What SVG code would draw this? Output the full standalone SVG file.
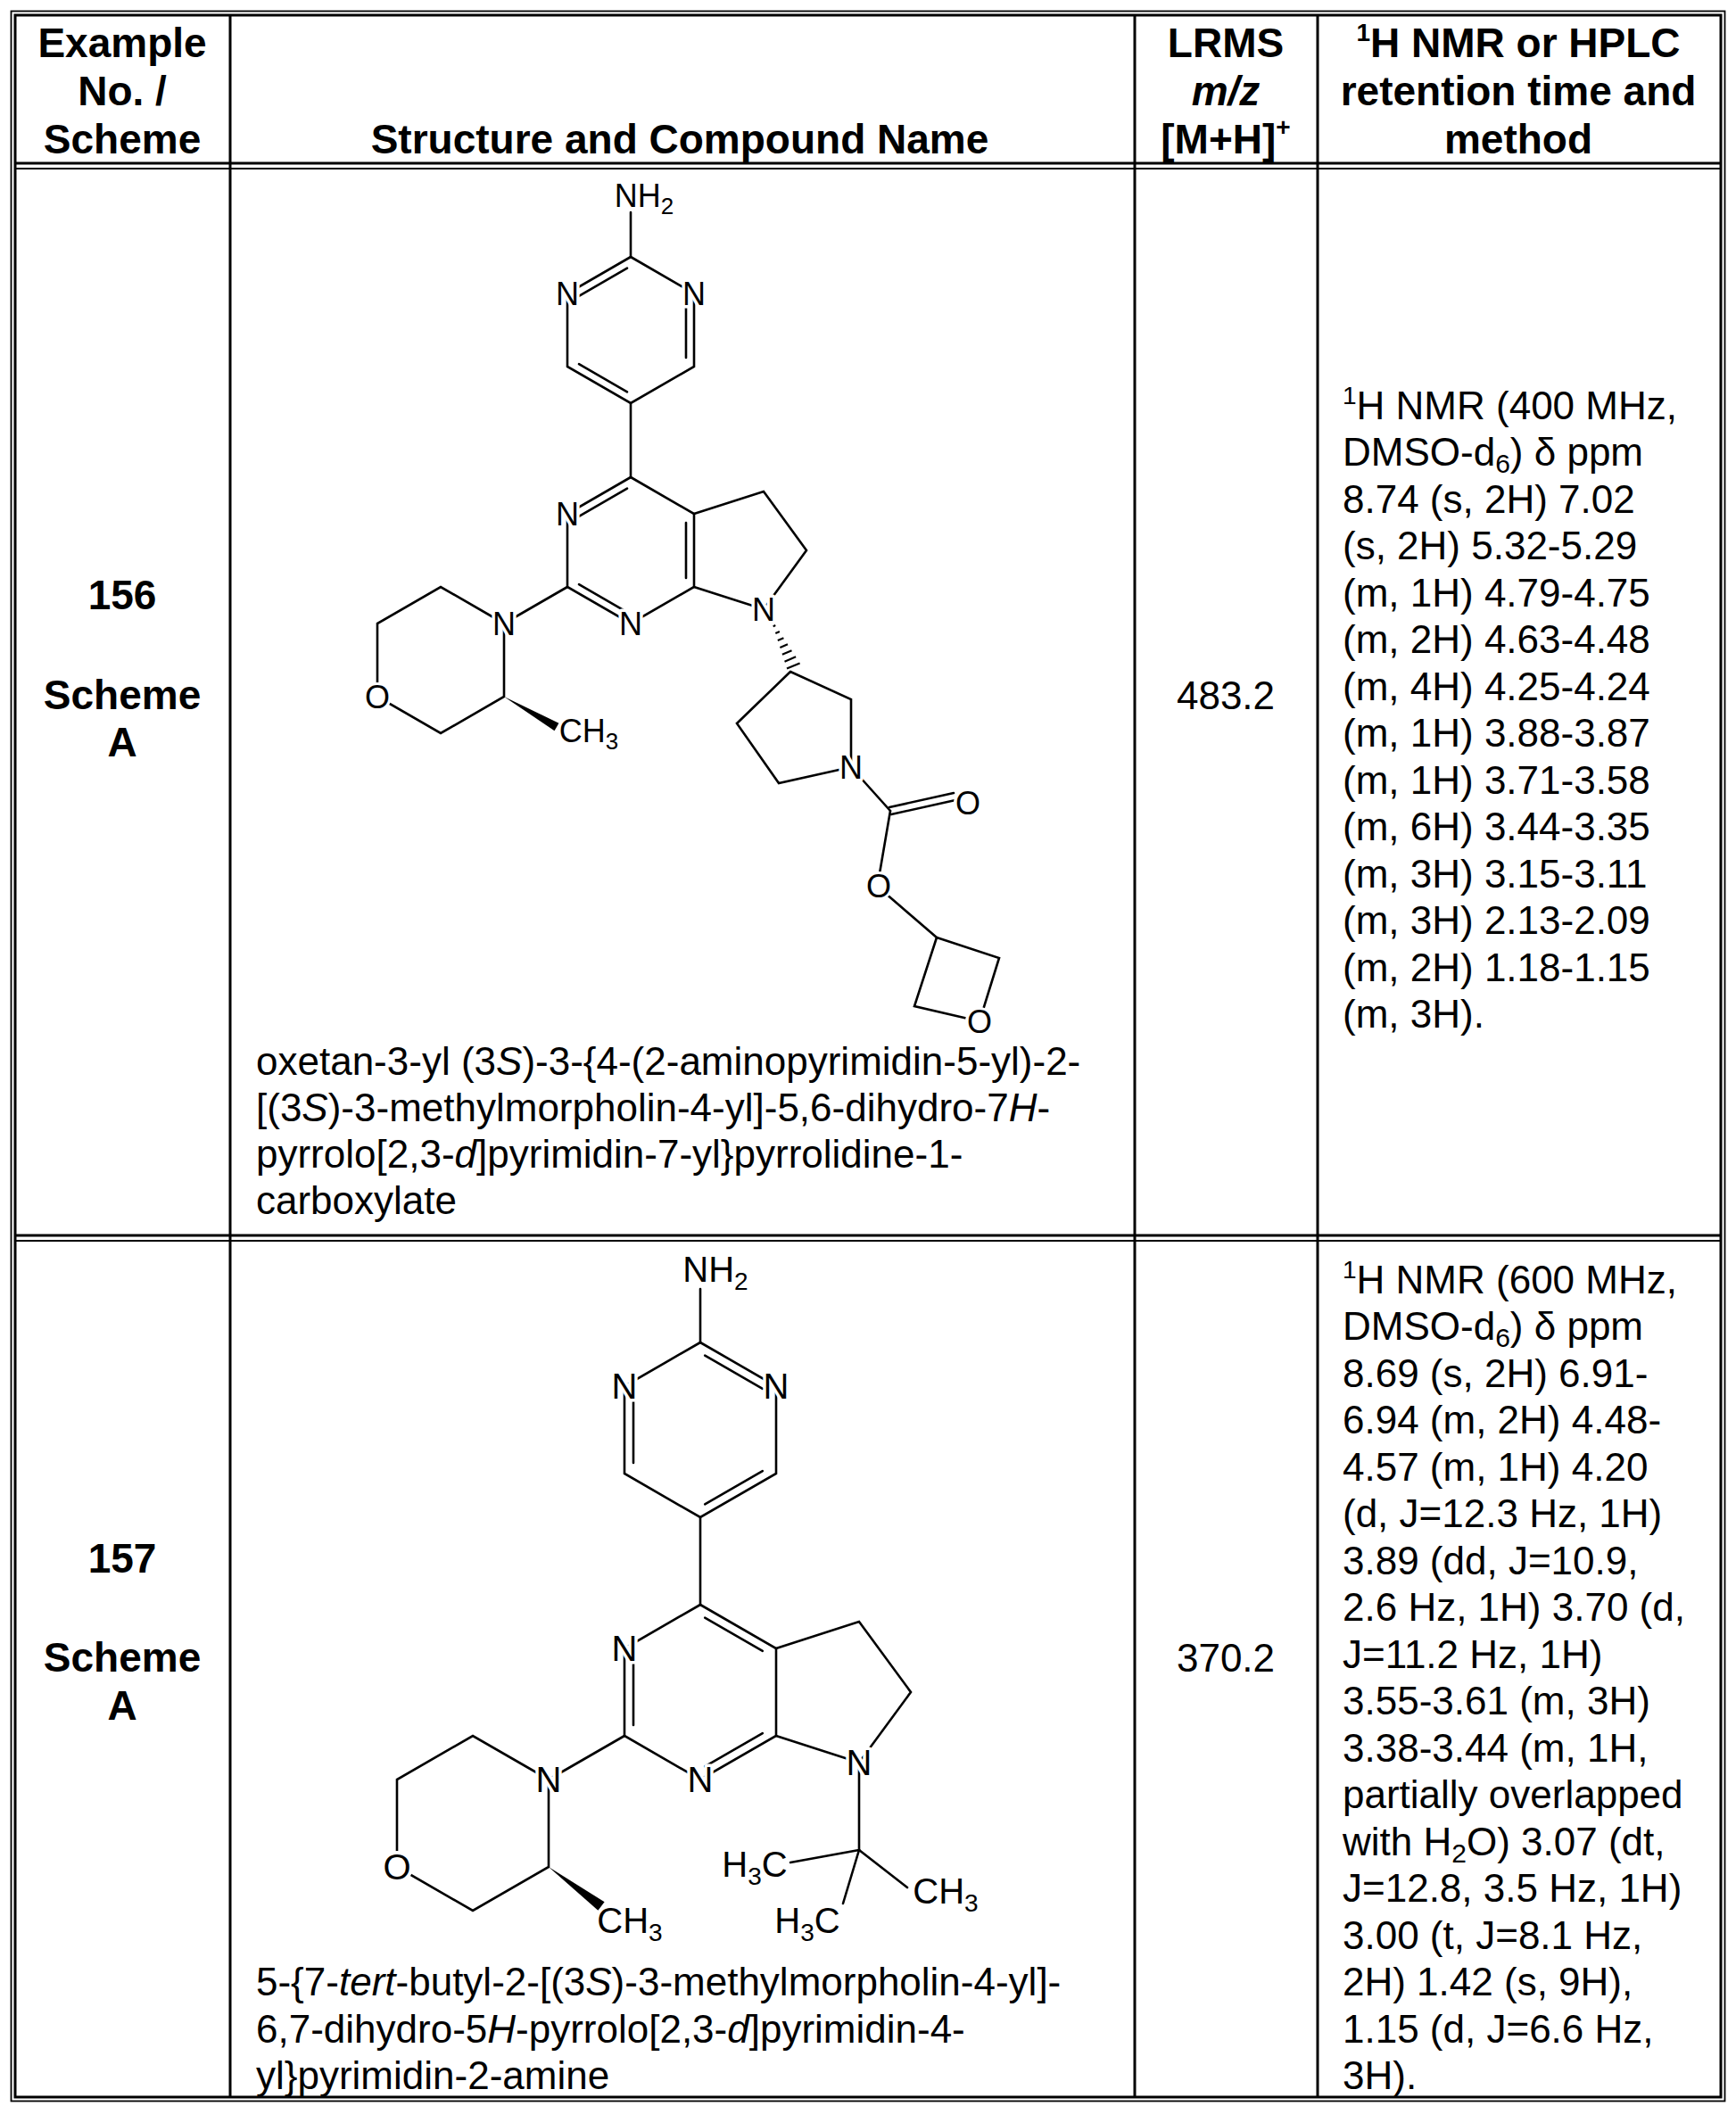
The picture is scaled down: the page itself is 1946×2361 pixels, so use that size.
<svg xmlns="http://www.w3.org/2000/svg" width="1946" height="2361" viewBox="0 0 1946 2361">
<style>
text{font-family:"Liberation Sans",Arial,sans-serif;fill:#000}
.h{font-size:46px;font-weight:bold;text-anchor:middle}
.b{font-size:44px}
.bc{font-size:44px;text-anchor:middle}
.bb{font-size:46px;font-weight:bold;text-anchor:middle}
.a1{font-size:36px;text-anchor:middle;stroke:#fff;stroke-width:7px;paint-order:stroke;stroke-linejoin:round}
.a2{font-size:40px;text-anchor:middle;stroke:#fff;stroke-width:7px;paint-order:stroke;stroke-linejoin:round}
.bond{stroke:#000;stroke-width:2.6;fill:none;stroke-linecap:round}
.tl{stroke:#000;fill:none}
.mask{fill:#fff}
</style>
<rect width="1946" height="2361" fill="#fff"/>
<g id="table">
<rect class="tl" x="12.5" y="12.5" width="1921" height="2343" stroke-width="1.8"/>
<rect class="tl" x="17" y="17" width="1912" height="2334" stroke-width="3"/>
<line class="tl" x1="17" y1="183" x2="1929" y2="183" stroke-width="3"/>
<line class="tl" x1="17" y1="189" x2="1929" y2="189" stroke-width="2"/>
<line class="tl" x1="17" y1="1385" x2="1929" y2="1385" stroke-width="3"/>
<line class="tl" x1="17" y1="1391" x2="1929" y2="1391" stroke-width="2"/>
<line class="tl" x1="258" y1="17" x2="258" y2="2351" stroke-width="3"/>
<line class="tl" x1="1272" y1="17" x2="1272" y2="2351" stroke-width="3"/>
<line class="tl" x1="1477" y1="17" x2="1477" y2="2351" stroke-width="3"/>
</g>
<g id="header">
<text class="h" x="137" y="64">Example</text>
<text class="h" x="137" y="118">No. /</text>
<text class="h" x="137" y="172">Scheme</text>
<text class="h" x="762" y="172">Structure and Compound Name</text>
<text class="h" x="1374" y="64">LRMS</text>
<text class="h" x="1374" y="118" font-style="italic">m/z</text>
<text class="h" x="1374" y="172">[M+H]<tspan font-size="28" dy="-20">+</tspan></text>
<text class="h" x="1702" y="64"><tspan font-size="28" dy="-18">1</tspan><tspan dy="18">H NMR or HPLC</tspan></text>
<text class="h" x="1702" y="118">retention time and</text>
<text class="h" x="1702" y="172">method</text>
</g>
<g id="row156">
<text class="bb" x="137" y="683">156</text>
<text class="bb" x="137" y="795">Scheme</text>
<text class="bb" x="137" y="848">A</text>
<text class="bc" x="1374" y="795">483.2</text>
<text class="b" x="287" y="1205">oxetan-3-yl (3<tspan font-style="italic">S</tspan>)-3-{4-(2-aminopyrimidin-5-yl)-2-</text>
<text class="b" x="287" y="1257">[(3<tspan font-style="italic">S</tspan>)-3-methylmorpholin-4-yl]-5,6-dihydro-7<tspan font-style="italic">H</tspan>-</text>
<text class="b" x="287" y="1309">pyrrolo[2,3-<tspan font-style="italic">d</tspan>]pyrimidin-7-yl}pyrrolidine-1-</text>
<text class="b" x="287" y="1361">carboxylate</text>
<g class="b">
<text x="1505" y="470"><tspan font-size="28" dy="-17">1</tspan><tspan dy="17">H NMR (400 MHz,</tspan></text>
<text x="1505" y="522">DMSO-d<tspan font-size="30" dy="8">6</tspan><tspan dy="-8">) δ ppm</tspan></text>
<text x="1505" y="575">8.74 (s, 2H) 7.02</text>
<text x="1505" y="627">(s, 2H) 5.32-5.29</text>
<text x="1505" y="680">(m, 1H) 4.79-4.75</text>
<text x="1505" y="732">(m, 2H) 4.63-4.48</text>
<text x="1505" y="785">(m, 4H) 4.25-4.24</text>
<text x="1505" y="837">(m, 1H) 3.88-3.87</text>
<text x="1505" y="890">(m, 1H) 3.71-3.58</text>
<text x="1505" y="942">(m, 6H) 3.44-3.35</text>
<text x="1505" y="995">(m, 3H) 3.15-3.11</text>
<text x="1505" y="1047">(m, 3H) 2.13-2.09</text>
<text x="1505" y="1100">(m, 2H) 1.18-1.15</text>
<text x="1505" y="1152">(m, 3H).</text>
</g>
</g>
<g id="structure156">
<g class="bond">
<line x1="707" y1="238" x2="707" y2="288"/>
<polyline points="707,288 778,329 778,411 707,452 636,411 636,329 707,288"/>
<line x1="769" y1="339" x2="769" y2="401"/>
<line x1="703" y1="300.7" x2="649" y2="331.9"/>
<line x1="703" y1="439.3" x2="649" y2="408.1"/>
<line x1="707" y1="452" x2="707" y2="535"/>
<polyline points="707,535 778,576 778,658 707,699 636,658 636,576 707,535"/>
<line x1="769" y1="586" x2="769" y2="648"/>
<line x1="703" y1="547.7" x2="649" y2="578.9"/>
<line x1="703" y1="686.3" x2="649" y2="655.1"/>
<line x1="636" y1="658" x2="565" y2="699"/>
<polyline points="565,699 494,658 423,699 423,781 494,822 565,781 565,699"/>
<polyline points="778,576 856,551 904,617 856,683 778,658"/>
<polyline points="886,753 954,784 954,860 873,878 826,811 886,753"/>
<line x1="954" y1="860" x2="998" y2="909"/>
<line x1="997" y1="905" x2="1069" y2="889"/>
<line x1="999" y1="913" x2="1071" y2="897"/>
<line x1="998" y1="909" x2="985" y2="985"/>
<line x1="985" y1="995" x2="1050" y2="1051"/>
<polyline points="1050,1051 1120,1074 1098,1145 1025,1128 1050,1051"/>
</g>
<polygon points="565,781 621.5,819.3 626.5,810.7" fill="#000"/>
<g stroke="#000" stroke-width="2.2">
<line x1="866.7" y1="702.2" x2="869.3" y2="701.1"/>
<line x1="869.3" y1="710.1" x2="873.9" y2="708.1"/>
<line x1="871.8" y1="718.0" x2="878.4" y2="715.2"/>
<line x1="874.4" y1="725.9" x2="883.0" y2="722.2"/>
<line x1="876.9" y1="733.8" x2="887.5" y2="729.3"/>
<line x1="879.5" y1="741.7" x2="892.1" y2="736.3"/>
<line x1="882.0" y1="749.6" x2="896.6" y2="743.4"/>
</g>
<circle class="mask" cx="423" cy="781" r="16"/>
<circle class="mask" cx="1085" cy="900" r="16"/>
<circle class="mask" cx="985" cy="993" r="16"/>
<circle class="mask" cx="1098" cy="1145" r="16"/>
<text class="a1" x="722" y="232">NH<tspan font-size="26" dy="8">2</tspan></text>
<text class="a1" x="778" y="342">N</text>
<text class="a1" x="636" y="342">N</text>
<text class="a1" x="636" y="589">N</text>
<text class="a1" x="707" y="712">N</text>
<text class="a1" x="565" y="712">N</text>
<text x="423" y="794" font-size="36" text-anchor="middle">O</text>
<text class="a1" x="856" y="696">N</text>
<text class="a1" x="954" y="873">N</text>
<text x="1085" y="913" font-size="36" text-anchor="middle">O</text>
<text x="985" y="1006" font-size="36" text-anchor="middle">O</text>
<text x="1098" y="1158" font-size="36" text-anchor="middle">O</text>
<text class="a1" x="660" y="832">CH<tspan font-size="26" dy="8">3</tspan></text>
</g>
<g id="row157">
<text class="bb" x="137" y="1763">157</text>
<text class="bb" x="137" y="1874">Scheme</text>
<text class="bb" x="137" y="1928">A</text>
<text class="bc" x="1374" y="1874">370.2</text>
<text class="b" x="287" y="2237">5-{7-<tspan font-style="italic">tert</tspan>-butyl-2-[(3<tspan font-style="italic">S</tspan>)-3-methylmorpholin-4-yl]-</text>
<text class="b" x="287" y="2290">6,7-dihydro-5<tspan font-style="italic">H</tspan>-pyrrolo[2,3-<tspan font-style="italic">d</tspan>]pyrimidin-4-</text>
<text class="b" x="287" y="2342">yl}pyrimidin-2-amine</text>
<g class="b">
<text x="1505" y="1450"><tspan font-size="28" dy="-17">1</tspan><tspan dy="17">H NMR (600 MHz,</tspan></text>
<text x="1505" y="1502">DMSO-d<tspan font-size="30" dy="8">6</tspan><tspan dy="-8">) δ ppm</tspan></text>
<text x="1505" y="1555">8.69 (s, 2H) 6.91-</text>
<text x="1505" y="1607">6.94 (m, 2H) 4.48-</text>
<text x="1505" y="1660">4.57 (m, 1H) 4.20</text>
<text x="1505" y="1712">(d, J=12.3 Hz, 1H)</text>
<text x="1505" y="1765">3.89 (dd, J=10.9,</text>
<text x="1505" y="1817">2.6 Hz, 1H) 3.70 (d,</text>
<text x="1505" y="1870">J=11.2 Hz, 1H)</text>
<text x="1505" y="1922">3.55-3.61 (m, 3H)</text>
<text x="1505" y="1975">3.38-3.44 (m, 1H,</text>
<text x="1505" y="2027">partially overlapped</text>
<text x="1505" y="2080">with H<tspan font-size="30" dy="8">2</tspan><tspan dy="-8">O) 3.07 (dt,</tspan></text>
<text x="1505" y="2132">J=12.8, 3.5 Hz, 1H)</text>
<text x="1505" y="2185">3.00 (t, J=8.1 Hz,</text>
<text x="1505" y="2237">2H) 1.42 (s, 9H),</text>
<text x="1505" y="2290">1.15 (d, J=6.6 Hz,</text>
<text x="1505" y="2342">3H).</text>
</g>
</g>
<g id="structure157">
<g class="bond">
<line x1="785" y1="1445" x2="785" y2="1505"/>
<polyline points="785,1505 870,1554 870,1652 785,1701 700,1652 700,1554 785,1505"/>
<line x1="790.2" y1="1519.6" x2="854.8" y2="1556.8"/>
<line x1="710" y1="1566" x2="710" y2="1640"/>
<line x1="854.8" y1="1649.2" x2="790.2" y2="1686.4"/>
<line x1="785" y1="1701" x2="785" y2="1799"/>
<polyline points="785,1799 870,1848 870,1946 785,1995 700,1946 700,1848 785,1799"/>
<line x1="790.2" y1="1813.6" x2="854.8" y2="1850.8"/>
<line x1="710" y1="1860" x2="710" y2="1934"/>
<line x1="854.8" y1="1943.2" x2="790.2" y2="1980.4"/>
<line x1="700" y1="1946" x2="615" y2="1995"/>
<polyline points="615,1995 530,1946 445,1995 445,2093 530,2142 615,2093 615,1995"/>
<polyline points="870,1848 963,1818 1021,1897 963,1976 870,1946"/>
<line x1="963" y1="1976" x2="963" y2="2074"/>
<line x1="963" y1="2074" x2="886" y2="2088"/>
<line x1="963" y1="2074" x2="1017" y2="2116"/>
<line x1="963" y1="2074" x2="945" y2="2134"/>
</g>
<polygon points="615,2093 670.4,2141.8 677.6,2132.2" fill="#000"/>
<circle class="mask" cx="445" cy="2093" r="18"/>
<text class="a2" x="802" y="1437">NH<tspan font-size="28" dy="9">2</tspan></text>
<text class="a2" x="870" y="1568">N</text>
<text class="a2" x="700" y="1568">N</text>
<text class="a2" x="700" y="1862">N</text>
<text class="a2" x="785" y="2009">N</text>
<text class="a2" x="615" y="2009">N</text>
<text x="445" y="2107" font-size="40" text-anchor="middle">O</text>
<text class="a2" x="963" y="1990">N</text>
<text class="a2" x="846" y="2104">H<tspan font-size="28" dy="9">3</tspan><tspan dy="-9">C</tspan></text>
<text class="a2" x="1060" y="2134">CH<tspan font-size="28" dy="9">3</tspan></text>
<text class="a2" x="905" y="2167">H<tspan font-size="28" dy="9">3</tspan><tspan dy="-9">C</tspan></text>
<text class="a2" x="706" y="2167">CH<tspan font-size="28" dy="9">3</tspan></text>
</g>
</svg>
